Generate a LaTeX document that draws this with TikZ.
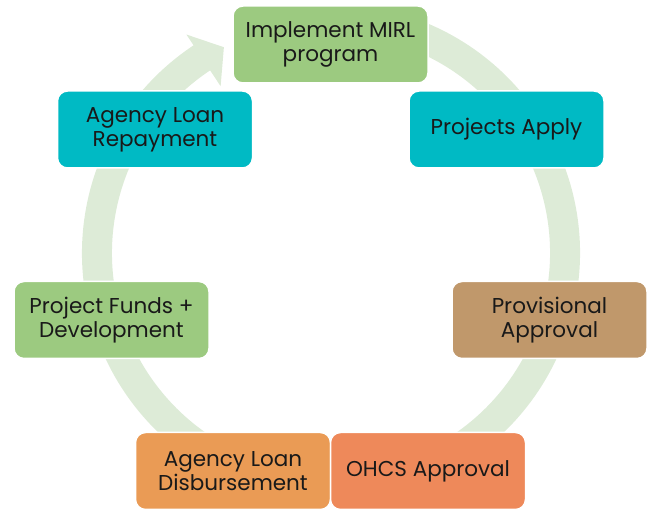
\documentclass[tikz,border=0pt]{standalone}
\usepackage{fontspec}
\setmainfont{Poppins}
\usepackage{tikz}
\usetikzlibrary{calc}

\definecolor{ringgreen}{RGB}{221,235,215}
\definecolor{leafgreen}{RGB}{156,202,128}
\definecolor{teal}{RGB}{0,186,196}
\definecolor{clay}{RGB}{192,152,107}
\definecolor{amber}{RGB}{234,155,85}
\definecolor{coral}{RGB}{238,137,90}

\begin{document}
\begin{tikzpicture}[x=1pt,y=1pt,
    stage/.style={draw=white,line width=1.5pt,rounded corners=10pt,
      minimum width=195pt,minimum height=77pt,align=center,inner sep=2pt,
      font=\fontsize{21.5}{24}\selectfont,text=black!90}]
  \useasboundingbox (0,0) rectangle (652,510);
  \coordinate (c) at (331,257);
  \draw[ringgreen,line width=30pt]
    ($(c)+(75:234)$) arc[start angle=75,end angle=-237,radius=234];
  \fill[ringgreen]
    ($(c)+(123.5:200)$)
    --
    ($(c)+(117.5:232)$)
    --
    ($(c)+(123.5:262)$)
    -- cycle;
  \node[stage,fill=leafgreen] (impl) at (330.5,465.5) {Implement MIRL\\program};
  \node[stage,fill=teal] (apply) at (506.5,380.5) {Projects Apply};
  \node[stage,fill=teal] (repay) at (155,380.5) {Agency Loan\\Repayment};
  \node[stage,fill=clay] (prov) at (549.5,190) {Provisional\\Approval};
  \node[stage,fill=leafgreen] (funds) at (111.5,190) {Project Funds +\\Development};
  \node[stage,fill=amber] (disb) at (233,39) {Agency Loan\\Disbursement};
  \node[stage,fill=coral] (ohcs) at (428,39) {OHCS Approval};
\end{tikzpicture}
\end{document}
